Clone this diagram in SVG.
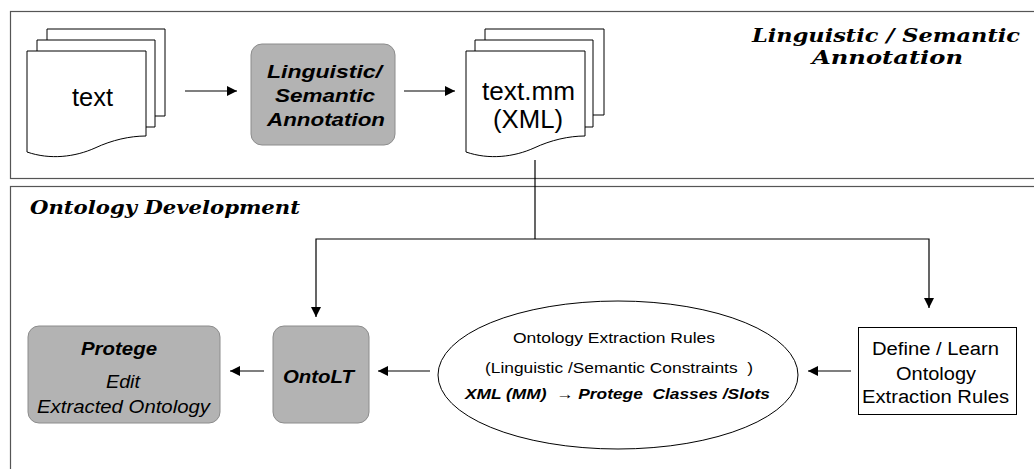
<svg xmlns="http://www.w3.org/2000/svg" width="1034" height="469" viewBox="0 0 1034 469">
<defs>
<marker id="ah" viewBox="0 0 10 10" refX="10" refY="5" markerWidth="10" markerHeight="10" markerUnits="userSpaceOnUse" orient="auto">
<path d="M0,0 L10,5 L0,10 Z" fill="#000"/>
</marker>
<style>
.panel{fill:#fff;stroke:#555;stroke-width:1.2}
.page{fill:#fff;stroke:#000;stroke-width:1}
.gray{fill:#b3b3b3;stroke:#8c8c8c;stroke-width:1}
.conn{fill:none;stroke:#000;stroke-width:1.2}
.sans{font-family:"Liberation Sans",Arial,sans-serif;fill:#000}
.title{font-family:"DejaVu Serif",serif;font-weight:bold;font-style:italic;font-size:18.5px;fill:#000}
.bi{font-weight:bold;font-style:italic}
.it{font-style:italic}
</style>
</defs>
<g id="panel-annotation">
<rect class="panel" x="10.5" y="11.5" width="1030" height="167"/>
<text class="title" x="752" y="42" textLength="268" lengthAdjust="spacingAndGlyphs">Linguistic / Semantic</text>
<text class="title" x="812" y="64" textLength="151" lengthAdjust="spacingAndGlyphs">Annotation</text>
</g>
<g id="panel-ontology">
<rect class="panel" x="10.5" y="186.5" width="1030" height="300"/>
<text class="title" x="30" y="214" textLength="270" lengthAdjust="spacingAndGlyphs">Ontology Development</text>
</g>
<g id="doc-text">
<path class="page" d="M47,116 V29 H165 V116 H155"/>
<path class="page" d="M37,127 V40 H155 V127 H146"/>
<path class="page" d="M27,152 V51 H146 V136 C130,136 112,140 95,148 C75,157 50,160 27,152 Z"/>
<text class="sans" x="72" y="106" font-size="25" textLength="41" lengthAdjust="spacingAndGlyphs">text</text>
</g>
<g id="annotation">
<rect class="gray" x="251" y="44" width="144" height="101" rx="11"/>
<text class="sans bi" x="267" y="78" font-size="18.5" textLength="115" lengthAdjust="spacingAndGlyphs">Linguistic/</text>
<text class="sans bi" x="275" y="102" font-size="18.5" textLength="100" lengthAdjust="spacingAndGlyphs">Semantic</text>
<text class="sans bi" x="267" y="126" font-size="18.5" textLength="118" lengthAdjust="spacingAndGlyphs">Annotation</text>
</g>
<g id="doc-textmm">
<path class="page" d="M485,115 V29 H604 V115 H593"/>
<path class="page" d="M475,127 V40 H593 V127 H585"/>
<path class="page" d="M466,152 V51 H585 V136 C569,136 551,140 534,148 C514,157 489,160 466,152 Z"/>
<text class="sans" x="482" y="100" font-size="25" textLength="93" lengthAdjust="spacingAndGlyphs">text.mm</text>
<text class="sans" x="493" y="128" font-size="25" textLength="70" lengthAdjust="spacingAndGlyphs">(XML)</text>
</g>
<g id="protege">
<rect class="gray" x="28" y="326" width="192" height="97" rx="11"/>
<text class="sans bi" x="81" y="355" font-size="18" textLength="76" lengthAdjust="spacingAndGlyphs">Protege</text>
<text class="sans it" x="106" y="388" font-size="18" textLength="34" lengthAdjust="spacingAndGlyphs">Edit</text>
<text class="sans it" x="37" y="413" font-size="18" textLength="173" lengthAdjust="spacingAndGlyphs">Extracted Ontology</text>
</g>
<g id="ontolt">
<rect class="gray" x="273" y="326" width="96" height="97" rx="11"/>
<text class="sans bi" x="283" y="383" font-size="19" textLength="71" lengthAdjust="spacingAndGlyphs">OntoLT</text>
</g>
<g id="rules">
<ellipse class="page" cx="618" cy="375" rx="180" ry="74"/>
<text class="sans" x="513" y="343" font-size="15" textLength="202" lengthAdjust="spacingAndGlyphs">Ontology Extraction Rules</text>
<text class="sans" x="485" y="373" font-size="15" textLength="268" lengthAdjust="spacingAndGlyphs" xml:space="preserve">(Linguistic /Semantic Constraints  )</text>
<text class="sans bi" x="465" y="399" font-size="15" textLength="305" lengthAdjust="spacingAndGlyphs" xml:space="preserve">XML (MM)  → Protege  Classes /Slots</text>
</g>
<g id="define">
<rect class="page" x="858.5" y="327.5" width="158" height="87"/>
<text class="sans" x="872" y="355" font-size="18" textLength="127" lengthAdjust="spacingAndGlyphs">Define / Learn</text>
<text class="sans" x="896" y="380" font-size="18" textLength="80" lengthAdjust="spacingAndGlyphs">Ontology</text>
<text class="sans" x="862" y="403" font-size="18" textLength="147" lengthAdjust="spacingAndGlyphs">Extraction Rules</text>
</g>
<g id="connectors">
<line class="conn" x1="185" y1="91" x2="237" y2="91" marker-end="url(#ah)"/>
<line class="conn" x1="404" y1="91" x2="455" y2="91" marker-end="url(#ah)"/>
<path class="conn" d="M535,160 V239"/>
<path class="conn" d="M535,239 H316 V317" marker-end="url(#ah)"/>
<path class="conn" d="M535,239 H929 V308" marker-end="url(#ah)"/>
<line class="conn" x1="264" y1="371" x2="230" y2="371" marker-end="url(#ah)"/>
<line class="conn" x1="430" y1="371" x2="378" y2="371" marker-end="url(#ah)"/>
<line class="conn" x1="851" y1="371" x2="808" y2="371" marker-end="url(#ah)"/>
</g>
</svg>
